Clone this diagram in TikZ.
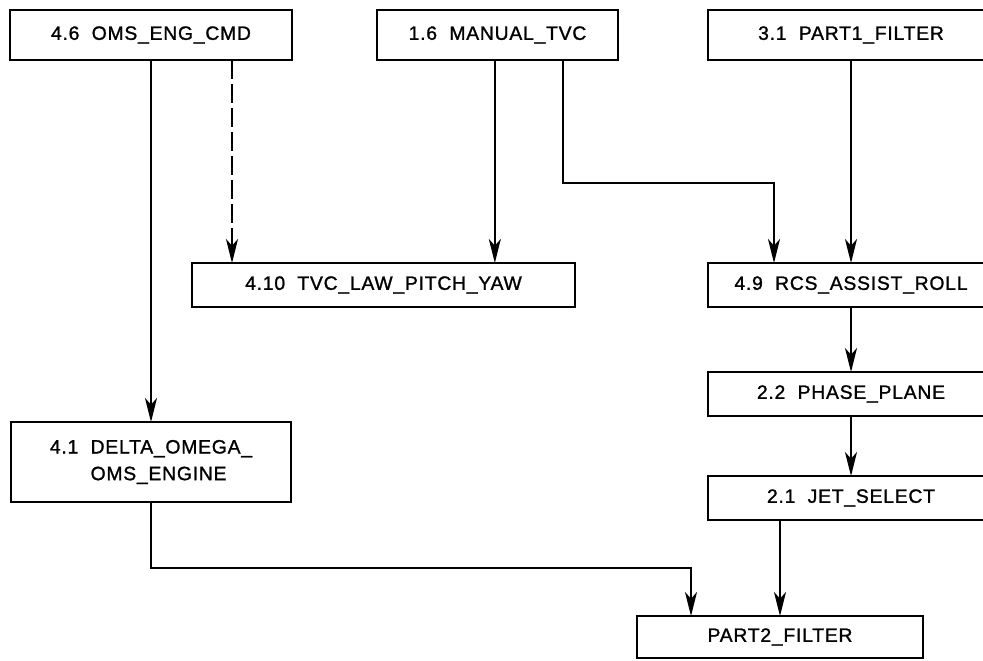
\documentclass[tikz,border=0pt]{standalone}
\usepackage{fontspec}
\setmainfont{Liberation Sans}[LetterSpace=4, FakeBold=1.2]
\usetikzlibrary{arrows.meta, positioning, calc}

\begin{document}
\begin{tikzpicture}[
    module/.style={rectangle, draw=black, line width=1.8pt, inner sep=0pt, outer sep=0pt, minimum width=214.5pt, minimum height=33pt, text centered, align=center, font=\fontsize{14.5}{20}\selectfont},
    arrow/.style={line width=1.6pt,->,>={Stealth[length=18pt,width=9pt,inset=5pt]}}
]
\useasboundingbox (0,0) rectangle (737.25pt,-495.75pt);

% Top row
\node[module, minimum width=211.5pt, minimum height=37.5pt] (omscmd) at (113.25pt,-26.25pt) {4.6~~OMS\_ENG\_CMD};
\node[module, minimum width=180.75pt, minimum height=37.5pt, right=63.75pt of omscmd] (mantvc) {1.6~~MANUAL\_TVC};
\node[module, minimum height=37.5pt, right=67.5pt of mantvc] (part1) {3.1~~PART1\_FILTER};

% TVC law
\node[module, minimum width=287.25pt, below=152.25pt of mantvc, xshift=-85.5pt] (tvclaw) {4.10~~TVC\_LAW\_PITCH\_YAW};

% RCS chain
\node[module, below=152.25pt of part1] (rcsroll) {4.9~~RCS\_ASSIST\_ROLL};
\node[module, below=48.75pt of rcsroll] (phase) {2.2~~PHASE\_PLANE};
\node[module, below=45pt of phase] (jet) {2.1~~JET\_SELECT};

% OMS engine
\node[module, minimum width=210pt, minimum height=60pt, align=left, below=271.5pt of omscmd] (delta) {4.1~~DELTA\_OMEGA\_\\\phantom{4.1~~}OMS\_ENGINE};

% Output
\node[module, minimum height=31.5pt, below=72pt of jet, xshift=-53.25pt] (part2) {PART2\_FILTER};

% Arrow end points
\coordinate (dashout) at ([xshift=60.75pt]omscmd.south);
\coordinate (tvcout) at ([xshift=49pt]mantvc.south);
\coordinate (rcsin) at ([xshift=-57.75pt]rcsroll.north);
\coordinate (part2in) at ([xshift=-66.75pt]part2.north);

% Arrows
\draw[arrow] (omscmd) -- (delta);
\draw[arrow, dash pattern=on 14pt off 4pt] (dashout) -- (dashout |- tvclaw.north);
\draw[arrow] ([xshift=-2pt]mantvc.south) -- ([xshift=-2pt]mantvc.south |- tvclaw.north);
\draw[arrow] (tvcout) |- ([yshift=60pt]rcsin) -- (rcsin);
\draw[arrow] (part1) -- (rcsroll);
\draw[arrow] (rcsroll) -- (phase);
\draw[arrow] (phase) -- (jet);
\draw[arrow] (jet.south -| part2.north) -- (part2.north);
\draw[arrow] (delta.south) |- ([yshift=36pt]part2in) -- (part2in);

\end{tikzpicture}
\end{document}
